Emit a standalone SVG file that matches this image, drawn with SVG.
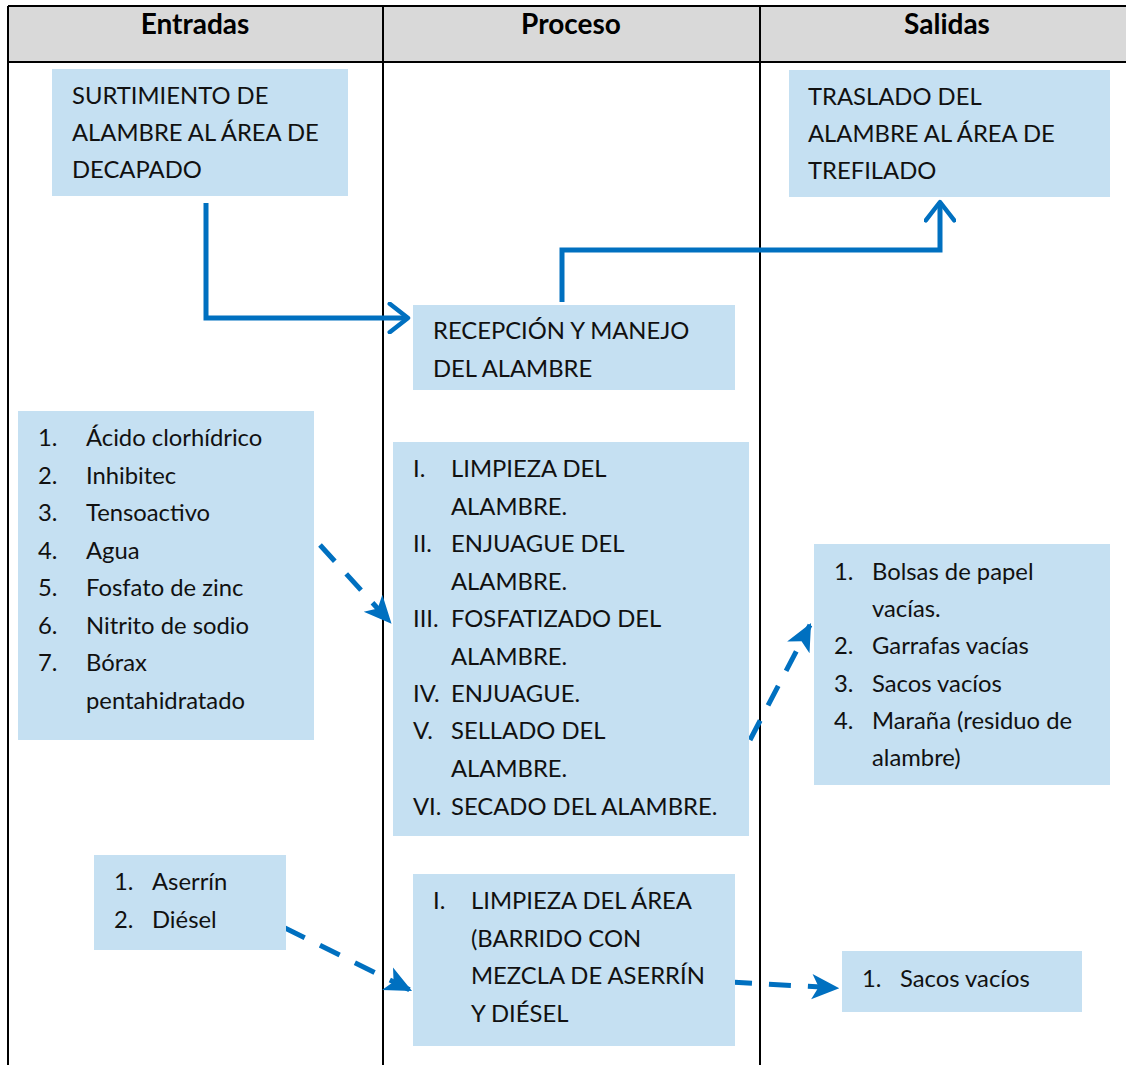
<svg xmlns="http://www.w3.org/2000/svg" width="1126" height="1065" viewBox="0 0 1126 1065">
  <style>
    .box { fill: #c5e0f2; }
    .t { font-family: Lato, "Open Sans", sans-serif; font-size: 23.8px; fill: #111; }
    .h { font-family: Lato, "Open Sans", sans-serif; font-size: 28px; font-weight: bold; fill: #000; text-anchor: middle; }
    .grid { stroke: #000; stroke-width: 2; fill: none; }
    .solid { stroke: #0070c0; stroke-width: 5; fill: none; marker-end: url(#chev); }
    .dash { stroke: #0070c0; stroke-width: 5; fill: none; stroke-dasharray: 22 17; marker-end: url(#barb); }
  </style>
  <defs>
    <marker id="chev" viewBox="0 0 12 16" refX="10" refY="8" markerWidth="5" markerHeight="6.5" orient="auto" markerUnits="strokeWidth">
      <path d="M1,1 L10,8 L1,15" fill="none" stroke="#0070c0" stroke-width="2.2" stroke-linecap="round" stroke-linejoin="round"/>
    </marker>
    <marker id="barb" viewBox="0 0 12 12" refX="11" refY="6" markerWidth="5.5" markerHeight="5.5" orient="auto" markerUnits="strokeWidth">
      <path d="M0,0.5 L12,6 L0,11.5 L3,6 Z" fill="#0070c0"/>
    </marker>
  </defs>

  <!-- table frame -->
  <g id="table">
    <rect x="8" y="6" width="1120" height="56" fill="#d9d9d9"/>
    <line class="grid" x1="8" y1="6" x2="1126" y2="6"/>
    <line class="grid" x1="8" y1="62" x2="1126" y2="62"/>
    <line class="grid" x1="8" y1="6" x2="8" y2="1065"/>
    <line class="grid" x1="383" y1="6" x2="383" y2="1065"/>
    <line class="grid" x1="760" y1="6" x2="760" y2="1065"/>
    <text class="h" x="195" y="34">Entradas</text>
    <text class="h" x="571" y="34">Proceso</text>
    <text class="h" x="947" y="34">Salidas</text>
  </g>

  <!-- connectors -->
  <g id="connectors">
    <polyline class="solid" points="206,203 206,318 408,318"/>
    <polyline class="solid" points="562,302 562,250 940,250 940,202"/>
    <line class="dash" x1="320" y1="545" x2="390" y2="622"/>
    <line class="dash" x1="750" y1="740" x2="810" y2="625"/>
    <line class="dash" x1="285" y1="928" x2="410" y2="990"/>
    <line class="dash" x1="730" y1="982" x2="837" y2="988"/>
  </g>

  <g id="surtimiento">
    <rect class="box" x="52" y="69" width="296" height="127"/>
    <text class="t" x="72" y="104">SURTIMIENTO DE</text>
    <text class="t" x="72" y="141">ALAMBRE AL ÁREA DE</text>
    <text class="t" x="72" y="178">DECAPADO</text>
  </g>

  <g id="traslado">
    <rect class="box" x="789" y="70" width="321" height="127"/>
    <text class="t" x="808" y="105">TRASLADO DEL</text>
    <text class="t" x="808" y="142">ALAMBRE AL ÁREA DE</text>
    <text class="t" x="808" y="179">TREFILADO</text>
  </g>

  <g id="recepcion">
    <rect class="box" x="413" y="305" width="322" height="85"/>
    <text class="t" x="433" y="339">RECEPCIÓN Y MANEJO</text>
    <text class="t" x="433" y="377">DEL ALAMBRE</text>
  </g>

  <g id="insumos">
    <rect class="box" x="18" y="411" width="296" height="329"/>
    <text class="t" x="38" y="446">1.</text><text class="t" x="86" y="446">Ácido clorhídrico</text>
    <text class="t" x="38" y="484">2.</text><text class="t" x="86" y="484">Inhibitec</text>
    <text class="t" x="38" y="521">3.</text><text class="t" x="86" y="521">Tensoactivo</text>
    <text class="t" x="38" y="559">4.</text><text class="t" x="86" y="559">Agua</text>
    <text class="t" x="38" y="596">5.</text><text class="t" x="86" y="596">Fosfato de zinc</text>
    <text class="t" x="38" y="634">6.</text><text class="t" x="86" y="634">Nitrito de sodio</text>
    <text class="t" x="38" y="671">7.</text><text class="t" x="86" y="671">Bórax</text>
    <text class="t" x="86" y="709">pentahidratado</text>
  </g>

  <g id="proceso">
    <rect class="box" x="393" y="442" width="356" height="394"/>
    <text class="t" x="413" y="477">I.</text><text class="t" x="451" y="477">LIMPIEZA DEL</text>
    <text class="t" x="451" y="515">ALAMBRE.</text>
    <text class="t" x="413" y="552">II.</text><text class="t" x="451" y="552">ENJUAGUE DEL</text>
    <text class="t" x="451" y="590">ALAMBRE.</text>
    <text class="t" x="413" y="627">III.</text><text class="t" x="451" y="627">FOSFATIZADO DEL</text>
    <text class="t" x="451" y="665">ALAMBRE.</text>
    <text class="t" x="413" y="702">IV.</text><text class="t" x="451" y="702">ENJUAGUE.</text>
    <text class="t" x="413" y="739">V.</text><text class="t" x="451" y="739">SELLADO DEL</text>
    <text class="t" x="451" y="777">ALAMBRE.</text>
    <text class="t" x="413" y="815">VI.</text><text class="t" x="451" y="815">SECADO DEL ALAMBRE.</text>
  </g>

  <g id="residuos">
    <rect class="box" x="814" y="544" width="296" height="241"/>
    <text class="t" x="834" y="580">1.</text><text class="t" x="872" y="580">Bolsas de papel</text>
    <text class="t" x="872" y="617">vacías.</text>
    <text class="t" x="834" y="654">2.</text><text class="t" x="872" y="654">Garrafas vacías</text>
    <text class="t" x="834" y="692">3.</text><text class="t" x="872" y="692">Sacos vacíos</text>
    <text class="t" x="834" y="729">4.</text><text class="t" x="872" y="729">Maraña (residuo de</text>
    <text class="t" x="872" y="766">alambre)</text>
  </g>

  <g id="aserrin">
    <rect class="box" x="94" y="855" width="192" height="95"/>
    <text class="t" x="114" y="890">1.</text><text class="t" x="152" y="890">Aserrín</text>
    <text class="t" x="114" y="928">2.</text><text class="t" x="152" y="928">Diésel</text>
  </g>

  <g id="limpieza-area">
    <rect class="box" x="413" y="874" width="322" height="172"/>
    <text class="t" x="433" y="909">I.</text><text class="t" x="471" y="909">LIMPIEZA DEL ÁREA</text>
    <text class="t" x="471" y="947">(BARRIDO CON</text>
    <text class="t" x="471" y="984">MEZCLA DE ASERRÍN</text>
    <text class="t" x="471" y="1022">Y DIÉSEL</text>
  </g>

  <g id="sacos">
    <rect class="box" x="842" y="951" width="240" height="61"/>
    <text class="t" x="862" y="987">1.</text><text class="t" x="900" y="987">Sacos vacíos</text>
  </g>
</svg>
